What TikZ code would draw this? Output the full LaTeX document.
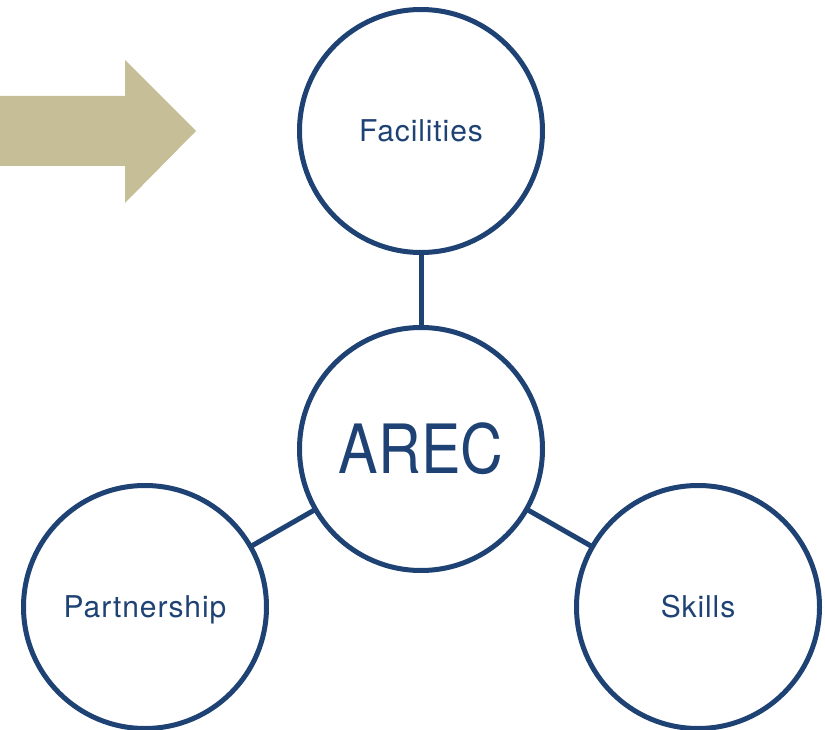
\documentclass[tikz,border=0pt]{standalone}
\usepackage{fontspec}
\setmainfont{TeX Gyre Heros}
\newfontfamily\smallfont[LetterSpace=3]{TeX Gyre Heros}
\newfontfamily\bigfont[FakeStretch=0.87]{TeX Gyre Heros}
\definecolor{navy}{HTML}{1E4274}
\definecolor{tan}{HTML}{C5BE97}
\begin{document}
\begin{tikzpicture}[x=1pt,y=-1pt,
  bubble/.style={circle,draw=navy,line width=5pt,minimum size=243pt,inner sep=0pt,outer sep=0pt,text=navy,
    font=\smallfont\fontsize{30}{34}\selectfont,text height=21.5pt,text depth=0pt},
  bigbubble/.style={bubble,font=\bigfont\fontsize{68}{80}\selectfont,text height=48.8pt},
  link/.style={draw=navy,line width=5pt}]
\useasboundingbox (0,0) rectangle (825,730);
\fill[tan] (0,96) -- (125,96) -- (125,60) -- (196,131) -- (125,203) -- (125,166) -- (0,166) -- cycle;
\node[bubble] (fac) at (421,131) {Facilities};
\node[bigbubble] (arec) at (421,449) {AREC};
\node[bubble] (part) at (145,607) {Partnership};
\node[bubble] (skills) at (698,607) {Skills};
\draw[link] (fac) -- (arec);
\draw[link] (arec) -- (part);
\draw[link] (arec) -- (skills);
\end{tikzpicture}
\end{document}
